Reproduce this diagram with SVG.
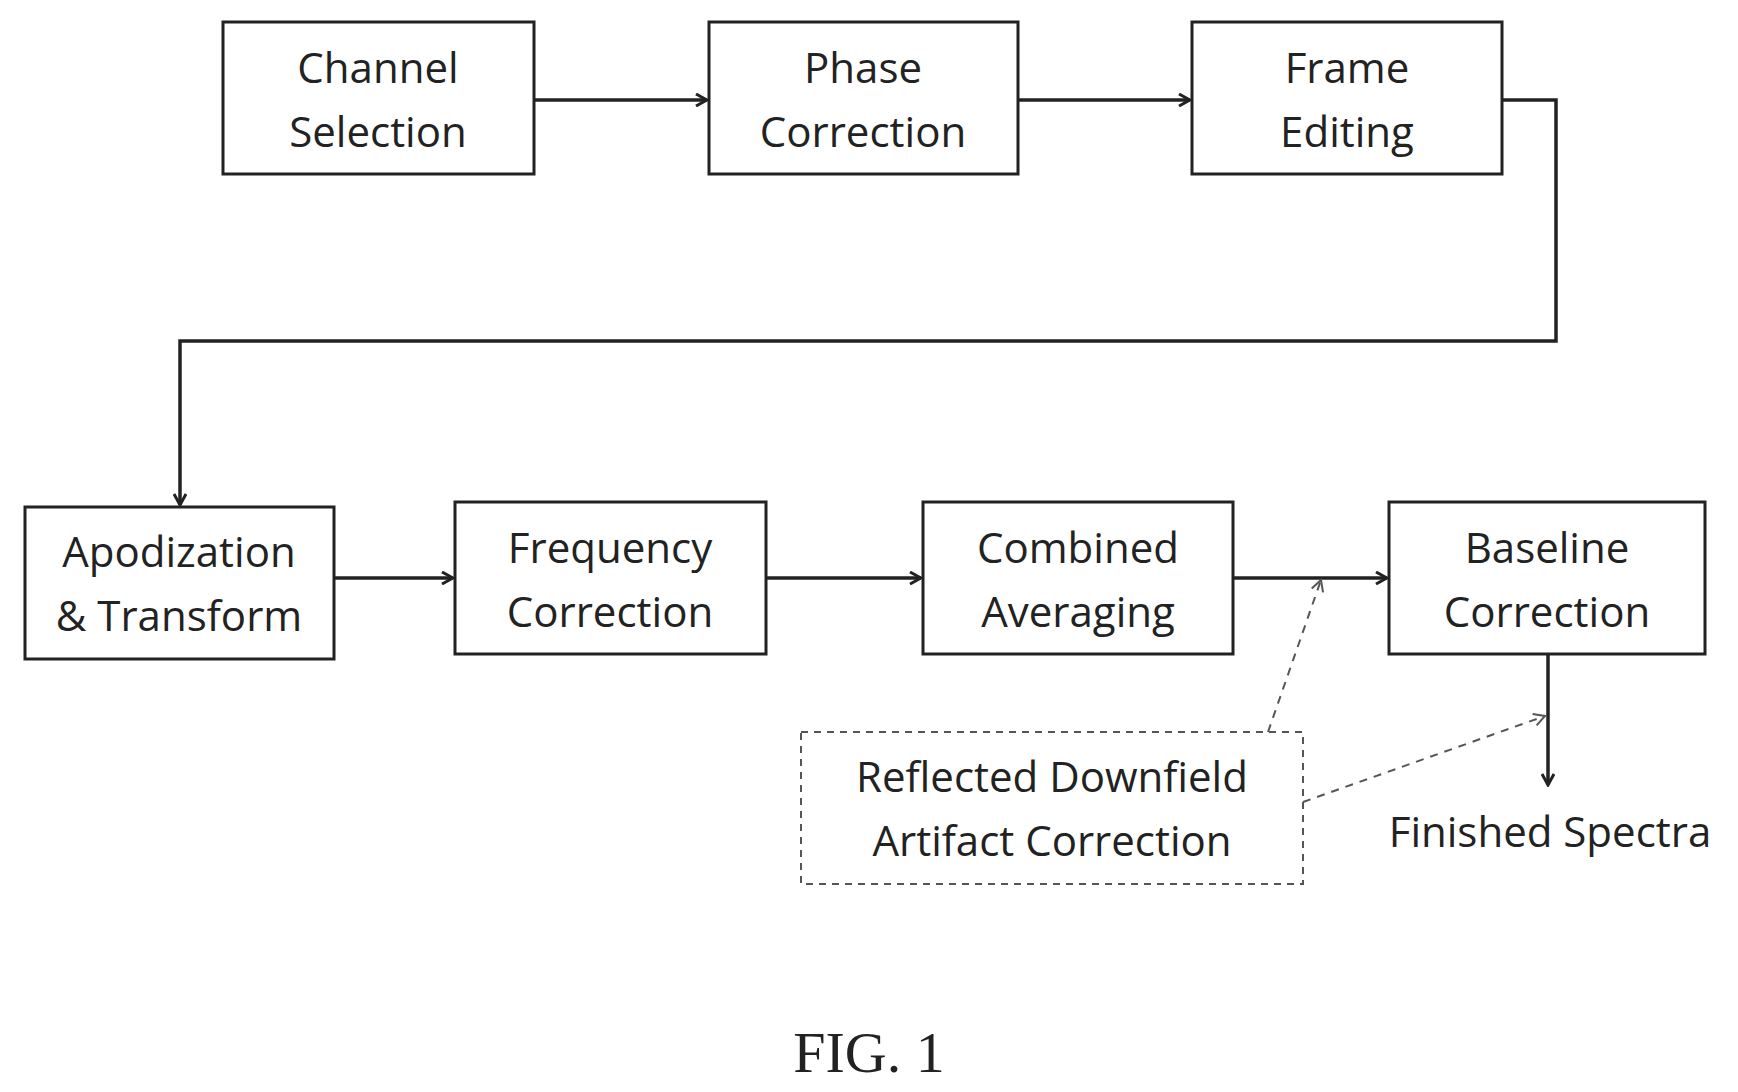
<svg xmlns="http://www.w3.org/2000/svg" width="1738" height="1092" viewBox="0 0 1738 1092">
<style>
.b{fill:#fff;stroke:#222;stroke-width:3}
.d{fill:none;stroke:#555;stroke-width:2;stroke-dasharray:7,6}
.t{font-family:"Open Sans","DejaVu Sans",sans-serif;font-size:42px;fill:#222;text-anchor:middle}
.c{fill:none;stroke:#222;stroke-width:3.5}
.dc{fill:none;stroke:#555;stroke-width:2;stroke-dasharray:8,7}
</style>
<defs>
<marker id="a" markerWidth="14" markerHeight="14" refX="12" refY="7" orient="auto" markerUnits="userSpaceOnUse"><path d="M1,1 L12,7 L1,13" fill="none" stroke="#222" stroke-width="3"/></marker>
<marker id="da" markerWidth="14" markerHeight="14" refX="12" refY="7" orient="auto" markerUnits="userSpaceOnUse"><path d="M1,1 L12,7 L1,13" fill="none" stroke="#555" stroke-width="2"/></marker>
</defs>
<rect width="1738" height="1092" fill="#fff"/>
<g id="channel"><rect class="b" x="223" y="22" width="311" height="152"/><text class="t" x="378" y="83">Channel</text><text class="t" x="378" y="147">Selection</text></g>
<g id="phase"><rect class="b" x="709" y="22" width="309" height="152"/><text class="t" x="863" y="83">Phase</text><text class="t" x="863" y="147">Correction</text></g>
<g id="frame"><rect class="b" x="1192" y="22" width="310" height="152"/><text class="t" x="1347" y="83">Frame</text><text class="t" x="1347" y="147">Editing</text></g>
<g id="apod"><rect class="b" x="25" y="507" width="309" height="152"/><text class="t" x="179" y="567">Apodization</text><text class="t" x="179" y="631">&amp; Transform</text></g>
<g id="freq"><rect class="b" x="455" y="502" width="311" height="152"/><text class="t" x="610" y="563">Frequency</text><text class="t" x="610" y="627">Correction</text></g>
<g id="comb"><rect class="b" x="923" y="502" width="310" height="152"/><text class="t" x="1078" y="563">Combined</text><text class="t" x="1078" y="627">Averaging</text></g>
<g id="base"><rect class="b" x="1389" y="502" width="316" height="152"/><text class="t" x="1547" y="563">Baseline</text><text class="t" x="1547" y="627">Correction</text></g>
<g id="reflect"><rect class="d" x="801" y="732" width="502" height="152"/><text class="t" x="1052" y="792">Reflected Downfield</text><text class="t" x="1052" y="856">Artifact Correction</text></g>
<g id="finished"><text class="t" x="1550" y="847">Finished Spectra</text></g>
<text x="869" y="1072" font-family="Liberation Serif,serif" font-size="58" fill="#222" text-anchor="middle">FIG. 1</text>
<g id="connectors">
<path class="c" d="M534,100 H707" marker-end="url(#a)"/>
<path class="c" d="M1018,100 H1190" marker-end="url(#a)"/>
<path class="c" d="M1502,100 H1556 V341 H180 V505" marker-end="url(#a)"/>
<path class="c" d="M334,578 H453" marker-end="url(#a)"/>
<path class="c" d="M766,578 H921" marker-end="url(#a)"/>
<path class="c" d="M1233,578 H1387" marker-end="url(#a)"/>
<path class="c" d="M1548,654 V785" marker-end="url(#a)"/>
<path class="dc" d="M1268,732 L1321,580" marker-end="url(#da)"/>
<path class="dc" d="M1303,802 L1545,716" marker-end="url(#da)"/>
</g>
</svg>
